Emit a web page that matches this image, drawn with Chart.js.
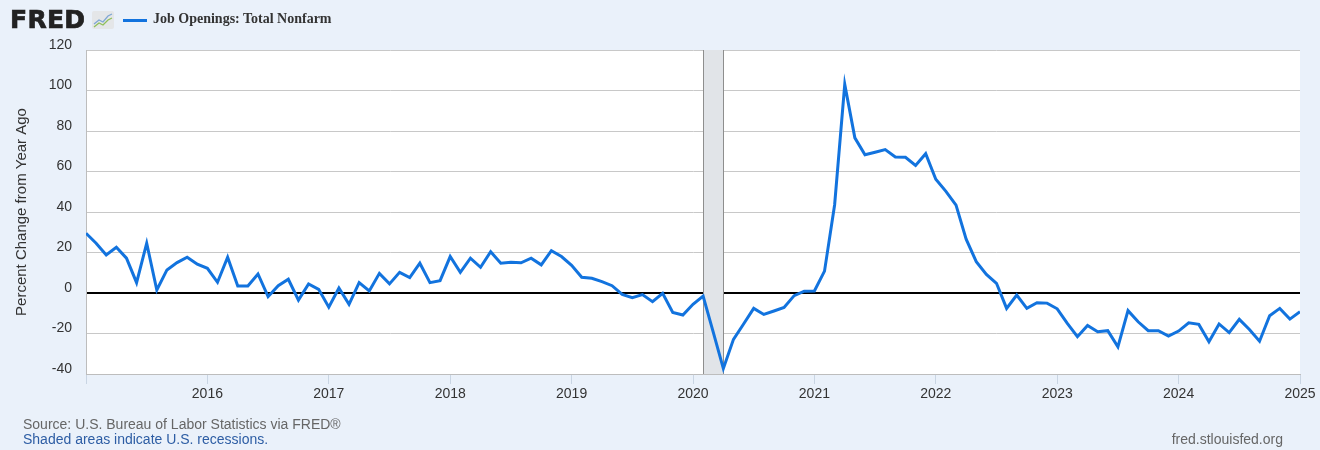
<!DOCTYPE html>
<html>
<head>
<meta charset="utf-8">
<script src="https://cdn.jsdelivr.net/npm/chart.js@4"></script>
<style>
  html, body { margin: 0; padding: 0; }
  body { width: 1320px; height: 450px; background: #eaf1fa; position: relative; overflow: hidden;
         font-family: "Liberation Sans", Arial, sans-serif; }
  #wrap { position: absolute; left: 0; top: 0; width: 1320px; height: 450px; }
  .logo { position: absolute; left: 10px; top: 5px; font-family: "DejaVu Sans", sans-serif; font-weight: bold;
          font-size: 25px; color: #222; letter-spacing: 0.3px; -webkit-text-stroke: 0.7px #222; }
  .icon { position: absolute; left: 92px; top: 11px; }
  .legline { position: absolute; left: 123px; top: 19px; width: 24px; height: 3px; background: #1273de; }
  .legtext { position: absolute; left: 153px; top: 11px; font-family: "Liberation Serif", serif; font-weight: bold;
             font-size: 14px; color: #333; }
  .src { position: absolute; left: 23px; top: 416px; font-size: 14px; color: #666; }
  .rec { position: absolute; left: 23px; top: 431px; font-size: 14px; color: #2d5da4; }
  .url { position: absolute; right: 37px; top: 431px; font-size: 14px; color: #666; }
</style>
</head>
<body>
<div id="wrap"><canvas id="chart" width="1320" height="450"></canvas></div>
<div class="logo">FRED</div>
<svg class="icon" width="22" height="18" viewBox="0 0 22 18">
  <rect x="0" y="0" width="22" height="18" rx="2" fill="#e4e6e8"/>
  <polyline points="2,13 7,9 11,11 16,5 20,3" fill="none" stroke="#7fa7d4" stroke-width="1.3"/>
  <polyline points="2,16 7,12 11,14 16,9 20,7" fill="none" stroke="#8fbf5a" stroke-width="1.3"/>
</svg>
<div class="legline"></div>
<div class="legtext">Job Openings: Total Nonfarm</div>
<div class="src">Source: U.S. Bureau of Labor Statistics via FRED®</div>
<div class="rec">Shaded areas indicate U.S. recessions.</div>
<div class="url">fred.stlouisfed.org</div>

<script>
// Monthly series, Jan 2015 .. Jan 2025, percent change from year ago
const startYear = 2015;
const y2015 = [29.5, 24.6, 18.8, 22.6, 17.2, 5.1, 24.6, 1.5, 11.4, 15.0, 17.7, 14.2];
const y2016 = [12.2, 5.3, 17.7, 3.5, 3.5, 9.4, -1.8, 3.6, 6.8, -3.5, 4.5, 1.8];
const y2017 = [-7.0, 2.5, -5.6, 5.1, 1.0, 9.7, 4.5, 10.2, 7.6, 14.7, 5.1, 6.1];
const y2018 = [18.0, 10.2, 17.2, 12.7, 20.4, 14.7, 15.2, 14.9, 17.2, 13.9, 20.9, 18.0];
const y2019 = [13.7, 7.8, 7.3, 5.6, 3.6, -0.7, -2.3, -0.8, -4.3, -0.2, -9.6, -10.9];
const y2020 = [-5.6, -1.5, -19.3, -37.3, -22.9, -15.3, -7.6, -10.6, -8.9, -7.1, -1.3, 0.9];
const y2021 = [1.0, 10.8, 43.6, 103.0, 76.6, 68.3, 69.5, 70.8, 67.2, 67.0, 63.0, 68.8];
const y2022 = [56.2, 50.2, 43.4, 26.6, 15.5, 9.2, 4.8, -7.6, -1.0, -7.6, -4.8, -5.0];
const y2023 = [-7.8, -15.0, -21.6, -16.0, -19.1, -18.6, -26.6, -8.7, -14.2, -18.6, -18.6, -21.3];
const y2024 = [-18.8, -14.7, -15.5, -24.1, -15.3, -19.6, -13.0, -18.0, -23.8, -11.2, -7.6, -12.9];
const y2025 = [-9.2];

const values = [].concat(y2015, y2016, y2017, y2018, y2019, y2020, y2021, y2022, y2023, y2024, y2025);

// recession: Feb 2020 - Apr 2020 (as decimal years)
const recessions = [[2020 + 1 / 12, 2020 + 3 / 12]];

const yTicks = [-40, -20, 0, 20, 40, 60, 80, 100, 120];
const xYears = [2015, 2016, 2017, 2018, 2019, 2020, 2021, 2022, 2023, 2024, 2025];

const points = values.map((v, i) => ({ x: startYear + i / 12, y: v }));

const recessionPlugin = {
  id: 'recessions',
  beforeDatasetsDraw(chart) {
    const { ctx, chartArea, scales } = chart;
    ctx.save();
    recessions.forEach(([a, b]) => {
      const x1 = scales.x.getPixelForValue(a);
      const x2 = scales.x.getPixelForValue(b);
      ctx.fillStyle = '#e1e4e8';
      ctx.fillRect(x1, chartArea.top, x2 - x1, chartArea.bottom - chartArea.top);
      ctx.strokeStyle = '#8e8e8e';
      ctx.lineWidth = 1;
      ctx.beginPath();
      ctx.moveTo(Math.round(x1) + 0.5, chartArea.top);
      ctx.lineTo(Math.round(x1) + 0.5, chartArea.bottom);
      ctx.moveTo(Math.round(x2) + 0.5, chartArea.top);
      ctx.lineTo(Math.round(x2) + 0.5, chartArea.bottom);
      ctx.stroke();
    });
    ctx.restore();
  }
};

const plotBg = {
  id: 'plotBg',
  beforeDraw(chart) {
    const { ctx, chartArea } = chart;
    ctx.save();
    ctx.fillStyle = '#ffffff';
    ctx.fillRect(chartArea.left, chartArea.top, chartArea.right - chartArea.left, chartArea.bottom - chartArea.top);
    ctx.restore();
  }
};

new Chart(document.getElementById('chart').getContext('2d'), {
  type: 'line',
  data: {
    datasets: [{
      label: 'Job Openings: Total Nonfarm',
      data: points,
      borderColor: '#1273de',
      borderWidth: 3,
      pointRadius: 0,
      tension: 0,
      fill: false
    }]
  },
  options: {
    responsive: false,
    animation: false,
    layout: { padding: { top: 50, right: 20, bottom: 0, left: 0 } },
    plugins: { legend: { display: false }, tooltip: { enabled: false } },
    scales: {
      x: {
        type: 'linear',
        min: xYears[0],
        max: xYears[xYears.length - 1],
        afterBuildTicks(scale) { scale.ticks = xYears.map(v => ({ value: v })); },
        afterFit(scale) { scale.height = 76; },
        grid: { drawOnChartArea: false, tickLength: 10, color: '#c9d5e3' },
        border: { color: '#bdbdbd' },
        ticks: {
          padding: 2,
          color: '#333',
          font: { family: 'Liberation Sans', size: 14 },
          maxRotation: 0,
          callback: v => (v === xYears[0] ? '' : String(v))
        }
      },
      y: {
        min: yTicks[0],
        max: yTicks[yTicks.length - 1],
        afterBuildTicks(scale) { scale.ticks = yTicks.map(v => ({ value: v })); },
        afterFit(scale) { scale.width = 86; },
        grid: {
          drawTicks: false,
          color: c => (c.tick && c.tick.value === 0 ? '#000000' : '#c8c8c8'),
          lineWidth: c => (c.tick && c.tick.value === 0 ? 2 : 1)
        },
        border: { color: '#bdbdbd' },
        ticks: {
          padding: 14,
          labelOffset: -5,
          color: '#333',
          font: { family: 'Liberation Sans', size: 14 }
        },
        title: {
          display: true,
          text: 'Percent Change from Year Ago',
          color: '#333',
          font: { family: 'Liberation Sans', size: 15 },
          padding: { top: 13, bottom: 0 }
        }
      }
    }
  },
  plugins: [plotBg, recessionPlugin]
});
</script>
</body>
</html>
